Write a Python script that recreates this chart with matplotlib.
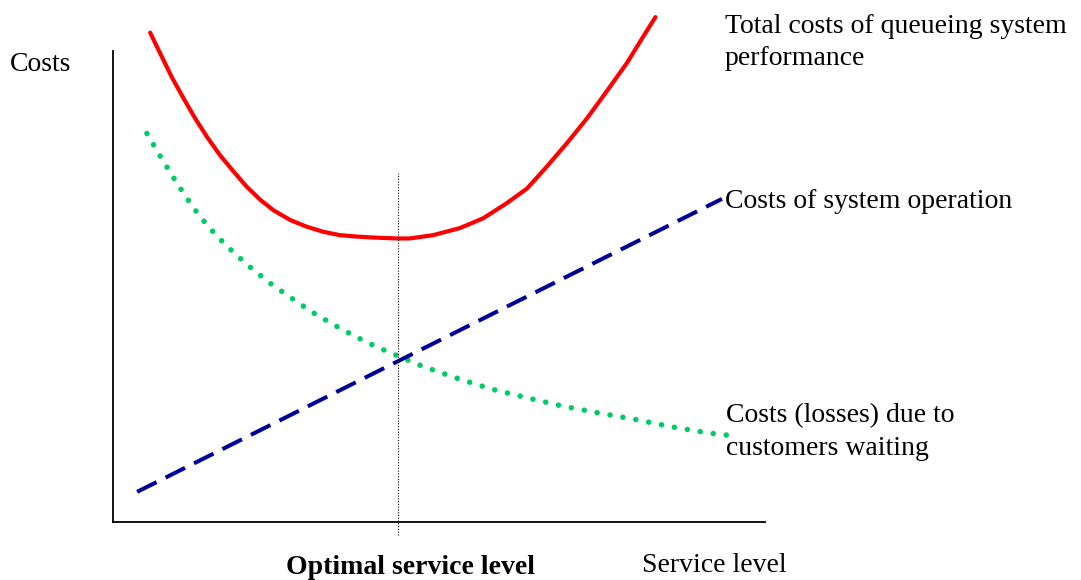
import matplotlib
matplotlib.use("Agg")
import matplotlib.pyplot as plt

plt.rcParams["font.family"] = ["Liberation Serif", "DejaVu Serif"]

# values (x: service level 0-100, y: costs 0-100)
total_x = [5.7, 7.2, 9.0, 10.8, 12.6, 14.4, 16.4, 18.5, 20.5, 22.6, 24.6, 27.2, 29.7, 32.3,
           34.8, 37.4, 39.9, 43.5, 45.5, 49.1, 53.2, 56.8, 60.4, 63.5, 66.5, 69.6, 72.7,
           75.7, 78.8, 81.3, 83.2]
total_y = [103.9, 99.6, 94.5, 90.0, 85.7, 81.8, 77.9, 74.4, 71.2, 68.4, 66.2, 64.1, 62.7, 61.6,
           60.9, 60.6, 60.4, 60.2, 60.2, 60.9, 62.4, 64.5, 67.7, 70.8, 75.4, 80.4, 85.7,
           91.4, 97.4, 103.0, 107.2]

waiting_x = [5.2, 7.1, 9.1, 11.1, 13.3, 15.8, 18.5, 21.3, 24.2, 27.3, 30.5, 33.7, 37.0, 40.4,
             43.8, 47.4, 52.6, 58.1, 63.7, 69.0, 74.7, 80.4, 85.7, 91.3, 95.1]
waiting_y = [82.5, 78.0, 73.5, 69.2, 64.9, 60.9, 57.2, 53.8, 50.6, 47.6, 44.6, 42.0, 39.5, 37.2,
             35.2, 33.1, 30.6, 28.2, 26.3, 24.6, 23.1, 21.7, 20.2, 18.9, 18.3]

operation_x = [3.7, 93.4]
operation_y = [6.4, 68.6]

optimal_x = 43.7
optimal_span = [-2.8, 74.1]

W, H = 1081, 580


def at(px, py):
    """pixel position in the 1081x580 canvas -> figure fraction"""
    return px / W, 1 - py / H


fig = plt.figure(figsize=(W / 100, H / 100), dpi=100)
ax = fig.add_axes([113 / W, 1 - 522 / H, (765 - 113) / W, (522 - 51) / H])
ax.set_xlim(0, 100)
ax.set_ylim(0, 100)
for s in ("top", "right"):
    ax.spines[s].set_visible(False)
for s in ("left", "bottom"):
    ax.spines[s].set_linewidth(1.3)
ax.set_xticks([])
ax.set_yticks([])

ax.plot(total_x, total_y, color="#FF0000", lw=3, solid_capstyle="round",
        solid_joinstyle="round", clip_on=False)
ax.plot(waiting_x, waiting_y, color="#00CC66", lw=4.0, linestyle=(0, (0.01, 2.35)),
        dash_capstyle="round", clip_on=False)
ax.plot(operation_x, operation_y, color="#000099", lw=2.9, linestyle=(0, (5.4, 2.5)),
        clip_on=False)
ax.plot([optimal_x, optimal_x], optimal_span, color="black", lw=0.8, linestyle=(0, (1, 1.5)),
        clip_on=False)

fs = 20
labels = [
    (10, 71, "Costs", "normal"),
    (725, 33, "Total costs of queueing system", "normal"),
    (725, 65, "performance", "normal"),
    (725, 208, "Costs of system operation", "normal"),
    (726, 422, "Costs (losses) due to", "normal"),
    (726, 455, "customers waiting", "normal"),
    (642, 572, "Service level", "normal"),
    (286, 574, "Optimal service level", "bold"),
]
for px, py, txt, wt in labels:
    fig.text(*at(px, py), txt, fontsize=fs, va="baseline", fontweight=wt)

fig.savefig("out.png", dpi=100)
